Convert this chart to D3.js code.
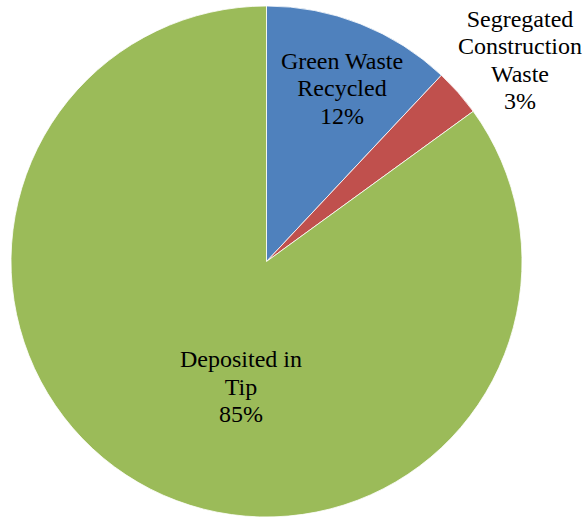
<!DOCTYPE html>
<html>
<head>
<meta charset="utf-8">
<script src="https://cdn.jsdelivr.net/npm/d3@7"></script>
<style>
  html, body { margin: 0; padding: 0; background: #fff; }
  svg { display: block; }
  text.lbl { font-family: "Liberation Serif", "Times New Roman", Times, "DejaVu Serif", serif; }
</style>
</head>
<body>
<svg id="chart" width="587" height="518"></svg>
<script>
const categories = ["Green Waste Recycled", "Segregated Construction Waste", "Deposited in Tip"];
const values = [12, 3, 85];
const labelLines = [["Green Waste", "Recycled", "12%"], ["Segregated", "Construction", "Waste", "3%"], ["Deposited in", "Tip", "85%"]];
const colors = ["#4F81BD", "#C0504D", "#9BBB59"];

const W = 587, H = 518;
const cx = 266.5, cy = 261.5, R = 255.5;
// label first-line baseline positions (layout)
const labelPos = [[342, 68.5], [520, 26.5], [241, 367]];
const lineH = 27.6;

const svg = d3.select("#chart");
const g = svg.append("g").attr("transform", `translate(${cx},${cy})`);

const data = categories.map((c, i) => ({ name: c, value: values[i], color: colors[i], lines: labelLines[i] }));
const pie = d3.pie().sort(null).value(d => d.value);
const arc = d3.arc().innerRadius(0).outerRadius(R);

g.selectAll("path").data(pie(data)).join("path")
  .attr("d", arc)
  .attr("fill", d => d.data.color)
  .attr("stroke", "#fff")
  .attr("stroke-width", 0.8)
  .attr("stroke-linejoin", "round");

const labels = svg.selectAll("text.lbl").data(data).join("text")
  .attr("class", "lbl")
  .attr("font-size", 24)
  .attr("fill", "#000")
  .attr("text-anchor", "middle");

labels.each(function(d, i) {
  const t = d3.select(this);
  d.lines.forEach((ln, j) => {
    t.append("tspan")
      .attr("x", labelPos[i][0])
      .attr("y", labelPos[i][1] + j * lineH)
      .text(ln);
  });
});
</script>
</body>
</html>
